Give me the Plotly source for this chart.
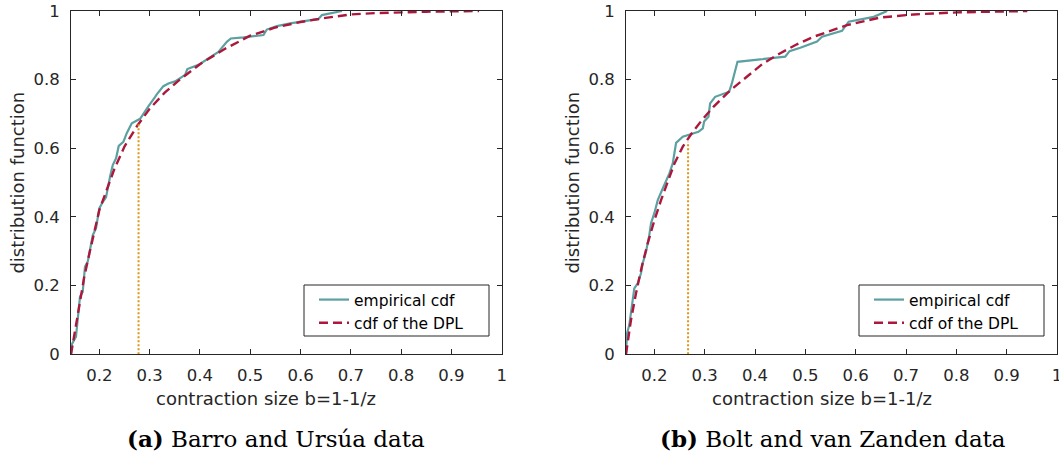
import plotly.graph_objects as go

# ---------------- data ----------------
x_ticks = [0.2, 0.3, 0.4, 0.5, 0.6, 0.7, 0.8, 0.9, 1.0]
x_ticktext = ["0.2", "0.3", "0.4", "0.5", "0.6", "0.7", "0.8", "0.9", "1"]
y_ticks = [0, 0.2, 0.4, 0.6, 0.8, 1.0]
y_ticktext = ["0", "0.2", "0.4", "0.6", "0.8", "1"]

# (a) Barro and Ursua data
a_emp_x = [0.1437, 0.1457, 0.1536, 0.159, 0.1616, 0.167, 0.1715, 0.177, 0.1835, 0.187,
           0.1934, 0.2, 0.2054, 0.2133, 0.2213, 0.2267, 0.2333, 0.2386, 0.2478, 0.2545,
           0.2645, 0.281, 0.2975, 0.3043, 0.311, 0.3142, 0.3274, 0.3373, 0.3507, 0.3705,
           0.375, 0.397, 0.42, 0.4368, 0.4535, 0.4615, 0.4866, 0.5264, 0.533, 0.553,
           0.5795, 0.6193, 0.6358, 0.6425, 0.6824]
a_emp_y = [0.0, 0.03, 0.051, 0.124, 0.168, 0.182, 0.255, 0.27, 0.323, 0.347,
           0.367, 0.425, 0.44, 0.457, 0.517, 0.551, 0.571, 0.607, 0.619, 0.644,
           0.673, 0.686, 0.722, 0.738, 0.750, 0.757, 0.781, 0.789, 0.795, 0.814,
           0.831, 0.843, 0.864, 0.881, 0.910, 0.920, 0.923, 0.930, 0.946, 0.956,
           0.964, 0.974, 0.977, 0.988, 1.0]
a_dpl_x = [0.1437, 0.150, 0.160, 0.170, 0.180, 0.190, 0.200, 0.215, 0.230, 0.250,
           0.275, 0.300, 0.330, 0.360, 0.400, 0.450, 0.500, 0.550, 0.600, 0.650,
           0.700, 0.750, 0.800, 0.850, 0.900, 0.955]
a_dpl_y = [0.0, 0.055, 0.150, 0.225, 0.292, 0.360, 0.420, 0.480, 0.540, 0.605,
           0.665, 0.715, 0.762, 0.800, 0.845, 0.890, 0.928, 0.952, 0.968, 0.980,
           0.990, 0.994, 0.997, 0.998, 0.999, 1.0]
a_cut_x = 0.278
a_cut_y = 0.675

# (b) Bolt and van Zanden data
b_emp_x = [0.1437, 0.1457, 0.1502, 0.1536, 0.1602, 0.167, 0.1735, 0.1769, 0.1835, 0.19,
           0.1934, 0.2, 0.2068, 0.2167, 0.2267, 0.2299, 0.2366, 0.2398, 0.2432, 0.2565,
           0.271, 0.2876, 0.2963, 0.2989, 0.3075, 0.3108, 0.3208, 0.3341, 0.3487, 0.354,
           0.3592, 0.3652, 0.4103, 0.46, 0.4687, 0.49, 0.5232, 0.5331, 0.5729, 0.5861,
           0.6358, 0.6625]
b_emp_y = [0.0, 0.061, 0.085, 0.124, 0.192, 0.207, 0.236, 0.265, 0.299, 0.347,
           0.382, 0.411, 0.449, 0.483, 0.513, 0.527, 0.556, 0.585, 0.616, 0.634,
           0.641, 0.648, 0.658, 0.678, 0.692, 0.731, 0.750, 0.758, 0.765, 0.789,
           0.818, 0.852, 0.859, 0.867, 0.883, 0.893, 0.911, 0.925, 0.942, 0.969,
           0.983, 1.0]
b_dpl_x = [0.1437, 0.1536, 0.1636, 0.175, 0.1868, 0.2, 0.2133, 0.226, 0.24, 0.2565,
           0.2744, 0.295, 0.3174, 0.35, 0.3839, 0.415, 0.4502, 0.4833, 0.5165, 0.55,
           0.5829, 0.6491, 0.7154, 0.8018, 0.87, 0.941]
b_dpl_y = [0.0, 0.1, 0.178, 0.255, 0.323, 0.39, 0.449, 0.503, 0.556, 0.605,
           0.644, 0.683, 0.721, 0.768, 0.809, 0.846, 0.877, 0.903, 0.925, 0.943,
           0.959, 0.981, 0.990, 0.996, 0.999, 1.0]
b_cut_x = 0.267
b_cut_y = 0.619

x_range = [0.1437, 1.0]
legend_names = ["empirical cdf", "cdf of the DPL"]
captions = ["<b>(a)</b> Barro and Ursúa data", "<b>(b)</b> Bolt and van Zanden data"]
xlabel = "contraction size b=1-1/z"
ylabel = "distribution function"

# ---------------- style ----------------
W, H = 1059, 456
TEAL = "rgb(92,160,161)"
RED = "rgb(172,24,60)"
ORANGE = "rgb(222,150,20)"
AX = "rgb(38,38,38)"
SANS = "DejaVu Sans"
SERIF = "DejaVu Serif"

def px_x(p):
    return p / W

def px_y(p):
    return 1 - p / H

fig = go.Figure()

panels = [
    (a_emp_x, a_emp_y, a_dpl_x, a_dpl_y, a_cut_x, a_cut_y, "x", "y", "legend"),
    (b_emp_x, b_emp_y, b_dpl_x, b_dpl_y, b_cut_x, b_cut_y, "x2", "y2", "legend2"),
]
for ex, ey, dx, dy, cx, cy, xa, ya, lg in panels:
    fig.add_trace(go.Scatter(x=ex, y=ey, mode="lines", name=legend_names[0],
                             line=dict(color=TEAL, width=2.2), xaxis=xa, yaxis=ya,
                             legend=lg))
    fig.add_trace(go.Scatter(x=dx, y=dy, mode="lines", name=legend_names[1],
                             line=dict(color=RED, width=2.4, dash="9px,5px"),
                             xaxis=xa, yaxis=ya, legend=lg))
    fig.add_trace(go.Scatter(x=[cx, cx], y=[0, cy], mode="lines", showlegend=False,
                             line=dict(color=ORANGE, width=2, dash="2px,2px"),
                             xaxis=xa, yaxis=ya))

ydom = [px_y(354.3), px_y(11)]
xdoms = [[px_x(71), px_x(501.7)], [px_x(626), px_x(1057)]]

axis_common = dict(showline=True, linecolor=AX, linewidth=1, mirror="ticks",
                   ticks="inside", ticklen=5, tickcolor=AX, tickwidth=1,
                   showgrid=False, zeroline=False, automargin=False,
                   ticklabeloverflow="allow",
                   tickfont=dict(family=SANS, size=16.5, color=AX))

layout = dict(
    width=W, height=H, autosize=False,
    margin=dict(l=0, r=0, t=0, b=0, pad=0, autoexpand=False),
    paper_bgcolor="white", plot_bgcolor="white",
    xaxis=dict(domain=xdoms[0], range=x_range, tickvals=x_ticks, ticktext=x_ticktext,
               anchor="y", ticklabelstandoff=6, **axis_common),
    yaxis=dict(domain=ydom, range=[0, 1], tickvals=y_ticks, ticktext=y_ticktext,
               anchor="x", ticklabelstandoff=7, **axis_common),
    xaxis2=dict(domain=xdoms[1], range=x_range, tickvals=x_ticks, ticktext=x_ticktext,
                anchor="y2", ticklabelstandoff=6, **axis_common),
    yaxis2=dict(domain=ydom, range=[0, 1], tickvals=y_ticks, ticktext=y_ticktext,
                anchor="x2", ticklabelstandoff=7, **axis_common),
    legend=dict(x=px_x(314), y=px_y(283), xanchor="left", yanchor="top",
                bgcolor="rgba(0,0,0,0)", borderwidth=0,
                font=dict(family=SANS, size=15.5, color="black")),
    legend2=dict(x=px_x(869), y=px_y(283), xanchor="left", yanchor="top",
                 bgcolor="rgba(0,0,0,0)", borderwidth=0,
                 font=dict(family=SANS, size=15.5, color="black")),
)
fig.update_layout(**layout)

# legend boxes
for x0 in (304, 859):
    fig.add_shape(type="rect", xref="paper", yref="paper",
                  x0=px_x(x0), x1=px_x(x0 + 185), y0=px_y(336), y1=px_y(285),
                  line=dict(color=AX, width=1), fillcolor="white", layer="above")

# axis titles and captions
for i, (ylx, xlx, capx) in enumerate([(18, 266, 275.5), (573, 822, 833)]):
    fig.add_annotation(text=ylabel, xref="paper", yref="paper", x=px_x(ylx),
                       y=px_y(182.6), textangle=-90, showarrow=False,
                       xanchor="center", yanchor="middle",
                       font=dict(family=SANS, size=18, color=AX))
    fig.add_annotation(text=xlabel, xref="paper", yref="paper", x=px_x(xlx),
                       y=px_y(398), showarrow=False, xanchor="center", yanchor="middle",
                       font=dict(family=SANS, size=18, color=AX))
    fig.add_annotation(text=captions[i], xref="paper", yref="paper", x=px_x(capx),
                       y=px_y(438), showarrow=False, xanchor="center", yanchor="middle",
                       font=dict(family=SERIF, size=23, color="black"))

fig.write_html("out.html")
